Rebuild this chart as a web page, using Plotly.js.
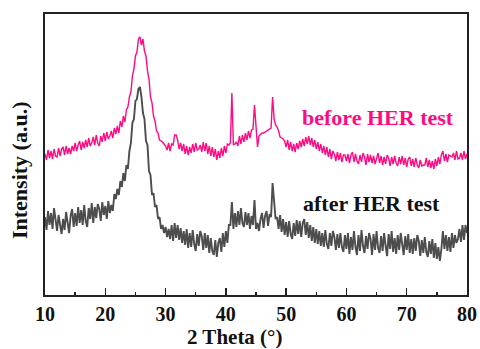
<!DOCTYPE html>
<html>
<head>
<meta charset="utf-8">
<script src="https://cdn.plot.ly/plotly-3.0.1.min.js"></script>
<style>html,body{margin:0;padding:0;background:#fff;}#chart{width:480px;height:349px;}</style>
</head>
<body>
<div id="chart"></div>
<script>
// 2-theta sampling grid: start, step (degrees)
const thetaStart = 10;
const thetaStep = 0.25;

// "before HER test" intensity (a.u., offset trace), one group per degree (x.00, x.25, x.50, x.75)
const beforeHER = [
  141, 135, 145, 137,  144, 136, 146, 139,  138, 147, 139, 146,  148, 140, 149, 141,
  147, 141, 149, 144,  152, 144, 150, 154,  145, 153, 147, 155,  148, 157, 149, 152,
  158, 150, 160, 152,  149, 159, 153, 162,  154, 163, 156, 159,  164, 157, 167, 161,
  169, 162, 174, 168,  179, 173, 185, 188,  198, 203, 219, 226,  239, 243, 256, 258,
  250, 256, 244, 239,  224, 216, 198, 192,  179, 174, 164, 162,  155, 154, 153, 151,
  149, 145, 152, 144,  151, 150, 160, 160,  155, 146, 152, 144,  151, 141, 149, 140,
  148, 142, 151, 143,  152, 145, 146, 150,  143, 153, 144, 152,  141, 149, 139, 148,
  138, 146, 135, 144,  137, 147, 139, 149,  142, 151, 150, 152,  202, 150, 151, 153,
  149, 159, 151, 160,  153, 162, 155, 164,  157, 165, 166, 190,  167, 148, 159, 161,
  162, 162, 163, 164,  165, 166, 167, 198,  176, 170, 168, 164,  158, 157, 156, 154,
  148, 155, 145, 153,  144, 151, 143, 152,  146, 154, 148, 156,  149, 158, 151, 159,
  150, 157, 148, 155,  146, 153, 144, 151,  142, 149, 140, 148,  138, 146, 136, 144,
  141, 134, 143, 135,  142, 133, 140, 140,  134, 141, 132, 140,  143, 133, 141, 134,
  131, 140, 133, 142,  138, 130, 141, 133,  140, 132, 139, 131,  138, 142, 132, 139,
  130, 138, 131, 140,  137, 129, 138, 131,  139, 132, 129, 138,  131, 139, 130, 137,
  128, 136, 138, 129,  136, 128, 137, 130,  127, 135, 129, 130,  130, 137, 128, 135,
  127, 134, 126, 136,  129, 138, 131, 140,  144, 134, 141, 133,  140, 139, 138, 142,
  135, 144, 136, 137,  142, 135, 144, 136,  141
];

// "after HER test" intensity (a.u., offset trace)
const afterHER = [
  78, 65, 84, 70,  82, 66, 87, 72,  64, 80, 69, 61,  76, 65, 83, 70,
  62, 79, 86, 68,  82, 69, 88, 72,  85, 70, 90, 74,  68, 87, 76, 92,
  72, 88, 77, 91,  86, 74, 93, 80,  89, 76, 94, 82,  90, 84, 101, 96,
  106, 100, 114, 108,  122, 114, 130, 126,  144, 152, 172, 176,  194, 196, 206, 208,
  198, 182, 176, 154,  150, 124, 120, 100,  102, 88, 90, 76,  78, 66, 70, 62,
  68, 58, 66, 56,  70, 54, 72, 57,  70, 55, 67, 52,  64, 50, 66, 47,
  62, 48, 65, 51,  44, 61, 49, 64,  59, 45, 62, 47,  60, 42, 57, 44,
  40, 55, 38, 52,  57, 43, 62, 48,  64, 52, 70, 70,  93, 66, 82, 68,
  84, 70, 87, 72,  68, 83, 70, 82,  66, 79, 70, 95,  66, 72, 64, 76,
  82, 67, 79, 84,  69, 81, 78, 112,  90, 76, 78, 66,  80, 63, 76, 60,
  73, 58, 74, 61,  56, 72, 59, 75,  61, 74, 58, 72,  76, 60, 73, 57,
  70, 54, 68, 52,  66, 51, 64, 49,  62, 48, 65, 51,  46, 62, 49, 64,
  58, 45, 61, 47,  62, 48, 43, 60,  46, 62, 41, 58,  45, 64, 48, 40,
  60, 44, 65, 49,  42, 59, 46, 62,  56, 40, 61, 45,  64, 47, 42, 59,
  44, 62, 49, 39,  61, 46, 64, 43,  57, 41, 60, 45,  62, 48, 40, 59,
  45, 61, 42, 56,  41, 57, 44, 60,  54, 39, 55, 42,  58, 43, 38, 54,
  41, 56, 37, 52,  36, 48, 34, 46,  64, 46, 60, 44,  58, 43, 62, 47,
  60, 52, 56, 66,  53, 70, 55, 70,  62
];

const seriesNames = ["before HER test", "after HER test"];
const xTickVals = [10, 20, 30, 40, 50, 60, 70, 80];
const xTitle = "2 Theta (°)";
const yTitle = "Intensity (a.u.)";

const theta = beforeHER.map((_, i) => thetaStart + i * thetaStep);

const serif = "'Liberation Serif', 'Times New Roman', serif";
const pink = "#ff0a82";
const gray = "#4d4d4d";

const traces = [
  {x: theta, y: beforeHER, type: "scatter", mode: "lines", name: seriesNames[0],
   line: {color: pink, width: 1.4}},
  {x: theta, y: afterHER, type: "scatter", mode: "lines", name: seriesNames[1],
   line: {color: gray, width: 1.9}}
];

const layout = {
  width: 480, height: 349,
  margin: {l: 45, r: 13, t: 14, b: 54, pad: 0},
  paper_bgcolor: "#fff", plot_bgcolor: "#fff",
  showlegend: false,
  xaxis: {
    range: [10, 80], tickvals: xTickVals, ticktext: xTickVals.map(String),
    ticks: "inside", ticklen: 7, tickwidth: 1.5, tickcolor: "#222",
    minor: {dtick: 5, tick0: 0, ticks: "inside", ticklen: 3, tickwidth: 1.5, tickcolor: "#222"},
    showline: true, mirror: true, linecolor: "#222", linewidth: 2,
    showgrid: false, zeroline: false,
    tickfont: {family: serif, size: 20, color: "#111", weight: "bold"}
  },
  yaxis: {
    range: [0, 281], showticklabels: false, ticks: "",
    showline: true, mirror: true, linecolor: "#222", linewidth: 2,
    showgrid: false, zeroline: false
  },
  annotations: [
    {text: xTitle, xref: "paper", yref: "paper", x: 0.451, y: -0.149,
     xanchor: "center", yanchor: "middle", showarrow: false,
     font: {family: serif, size: 21, color: "#111", weight: "bold"}},
    {text: yTitle, xref: "paper", yref: "paper", x: -0.059, y: 0.445, textangle: -90,
     xanchor: "center", yanchor: "middle", showarrow: false,
     font: {family: serif, size: 22, color: "#111", weight: "bold"}},
    {text: seriesNames[0], xref: "paper", yref: "paper", x: 0.604, y: 0.630,
     xanchor: "left", yanchor: "middle", showarrow: false,
     font: {family: serif, size: 22, color: pink, weight: "bold"}},
    {text: seriesNames[1], xref: "paper", yref: "paper", x: 0.607, y: 0.327,
     xanchor: "left", yanchor: "middle", showarrow: false,
     font: {family: serif, size: 22, color: "#111", weight: "bold"}}
  ]
};

Plotly.newPlot("chart", traces, layout, {displayModeBar: false, staticPlot: true});
</script>
</body>
</html>
